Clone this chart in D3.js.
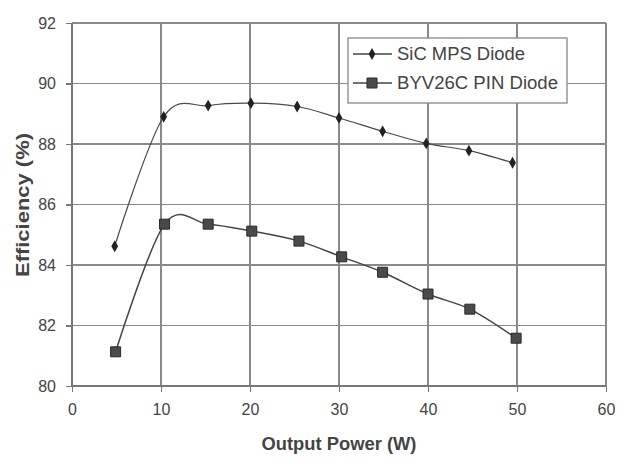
<!DOCTYPE html>
<html lang="en">
<head>
<meta charset="utf-8">
<title>Efficiency vs Output Power</title>
<script src="https://cdn.jsdelivr.net/npm/d3@7"></script>
<style>
  body { margin: 0; background: #fff; }
  svg { display: block; font-family: "Liberation Sans", Arial, sans-serif; }
  .grid line { stroke: #8a8a8a; stroke-width: 1.3; shape-rendering: crispEdges; }
  .axis path, .axis line { stroke: #777; stroke-width: 1.3; shape-rendering: crispEdges; }
  .axis text { font-size: 16px; fill: #444; }
</style>
</head>
<body>
<script>
// data
var sicPower = [4.8, 10.3, 15.3, 20.1, 25.3, 30.0, 34.9, 39.8, 44.6, 49.5];
var sicEff   = [84.62, 88.9, 89.27, 89.35, 89.24, 88.86, 88.42, 88.02, 87.78, 87.38];
var pinPower = [4.9, 10.4, 15.3, 20.2, 25.5, 30.3, 34.9, 40.0, 44.7, 49.9];
var pinEff   = [81.13, 85.35, 85.35, 85.12, 84.79, 84.27, 83.76, 83.04, 82.54, 81.58];
var seriesNames = ["SiC MPS Diode", "BYV26C PIN Diode"];
var xTicks = [0, 10, 20, 30, 40, 50, 60];
var yTicks = [80, 82, 84, 86, 88, 90, 92];

var w = 618, h = 464;
var pLeft = 72, pRight = 606, pTop = 23, pBottom = 386;

var xScale = d3.scaleLinear().domain([0, 60]).range([pLeft, pRight]);
var yScale = d3.scaleLinear().domain([80, 92]).range([pBottom, pTop]);

var svg = d3.select("body").append("svg")
  .attr("width", w)
  .attr("height", h);

// gridlines
var grid = svg.append("g").attr("class", "grid");
grid.selectAll(".h").data(yTicks).enter().append("line")
  .attr("x1", pLeft).attr("x2", pRight)
  .attr("y1", function (d) { return yScale(d); })
  .attr("y2", function (d) { return yScale(d); });
grid.selectAll(".v").data(xTicks).enter().append("line")
  .attr("y1", pTop).attr("y2", pBottom)
  .attr("x1", function (d) { return xScale(d); })
  .attr("x2", function (d) { return xScale(d); });

// axes
svg.append("g")
  .attr("class", "axis")
  .attr("transform", "translate(0," + pBottom + ")")
  .call(d3.axisBottom(xScale).tickValues(xTicks).tickSize(6).tickPadding(12).tickSizeOuter(0))
  .call(function (g) { g.select(".domain").remove(); })
  .call(function (g) {
    g.append("line").attr("x1", pLeft).attr("x2", pRight).attr("stroke", "#777").attr("stroke-width", 1.3);
  });

svg.append("g")
  .attr("class", "axis")
  .attr("transform", "translate(" + pLeft + ",0)")
  .call(d3.axisLeft(yScale).tickValues(yTicks).tickSize(6).tickPadding(10).tickSizeOuter(0))
  .call(function (g) { g.select(".domain").remove(); })
  .call(function (g) {
    g.append("line").attr("y1", pTop).attr("y2", pBottom).attr("stroke", "#777").attr("stroke-width", 1.3);
  });

// axis titles
svg.append("text")
  .text("Output Power (W)")
  .attr("x", 339)
  .attr("y", 450)
  .attr("text-anchor", "middle")
  .attr("font-size", 18)
  .attr("font-weight", "bold")
  .attr("fill", "#444")
  .attr("textLength", 155)
  .attr("lengthAdjust", "spacingAndGlyphs");

svg.append("text")
  .text("Efficiency (%)")
  .attr("transform", "translate(29,205) rotate(-90)")
  .attr("text-anchor", "middle")
  .attr("font-size", 19)
  .attr("font-weight", "bold")
  .attr("fill", "#444")
  .attr("textLength", 144)
  .attr("lengthAdjust", "spacingAndGlyphs");

// lines (uniform catmull-rom, close to the spreadsheet smoothing)
var line = d3.line()
  .x(function (d) { return xScale(d[0]); })
  .y(function (d) { return yScale(d[1]); })
  .curve(d3.curveCatmullRom.alpha(0));

var sicData = d3.zip(sicPower, sicEff);
var pinData = d3.zip(pinPower, pinEff);

svg.append("path")
  .datum(sicData)
  .attr("fill", "none")
  .attr("stroke", "#4a4a4a")
  .attr("stroke-width", 1.2)
  .attr("d", line);

svg.append("path")
  .datum(pinData)
  .attr("fill", "none")
  .attr("stroke", "#444")
  .attr("stroke-width", 1.5)
  .attr("d", line);

var diamond = d3.symbol().type(d3.symbolDiamond).size(40);
var square = d3.symbol().type(d3.symbolSquare).size(100);

svg.selectAll(".sic").data(sicData).enter().append("path")
  .attr("class", "sic")
  .attr("d", diamond)
  .attr("transform", function (d) { return "translate(" + xScale(d[0]) + "," + yScale(d[1]) + ")"; })
  .attr("fill", "#222");

svg.selectAll(".pin").data(pinData).enter().append("path")
  .attr("class", "pin")
  .attr("d", square)
  .attr("transform", function (d) { return "translate(" + xScale(d[0]) + "," + yScale(d[1]) + ")"; })
  .attr("fill", "#4a4a4a")
  .attr("stroke", "#2a2a2a")
  .attr("stroke-width", 1);

// legend
var legend = svg.append("g").attr("transform", "translate(348,38)");
legend.append("rect")
  .attr("width", 219).attr("height", 65)
  .attr("fill", "#fff").attr("stroke", "#888").attr("stroke-width", 1.3);

var rows = legend.selectAll(".row").data(seriesNames).enter().append("g")
  .attr("transform", function (d, i) { return "translate(0," + (16 + i * 29) + ")"; });

rows.append("line")
  .attr("x1", 5).attr("x2", 44)
  .attr("stroke", "#444").attr("stroke-width", 1.3);

rows.append("path")
  .attr("d", function (d, i) { return i === 0 ? diamond() : square(); })
  .attr("transform", "translate(24,0)")
  .attr("fill", function (d, i) { return i === 0 ? "#222" : "#4a4a4a"; })
  .attr("stroke", function (d, i) { return i === 0 ? "none" : "#2a2a2a"; });

rows.append("text")
  .text(function (d) { return d; })
  .attr("x", 49)
  .attr("y", 6)
  .attr("font-size", 18)
  .attr("fill", "#444")
  .attr("textLength", function (d, i) { return i === 0 ? 128 : 161; })
  .attr("lengthAdjust", "spacingAndGlyphs");
</script>
</body>
</html>
